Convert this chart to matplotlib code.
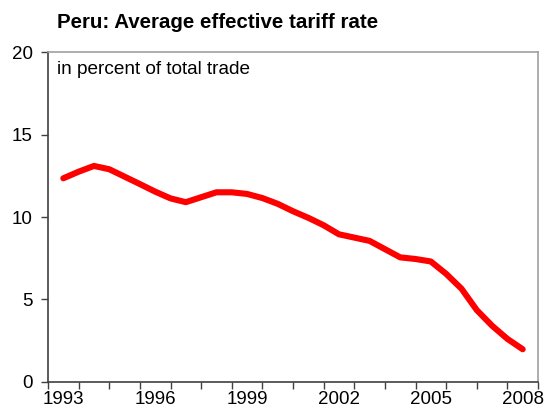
import numpy as np
import matplotlib
matplotlib.use('Agg')
import matplotlib.pyplot as plt

# semiannual readings, percent of total trade
years = np.arange(1993.0, 2008.01, 0.5)
tariff = [12.35, 12.75, 13.1, 12.9, 12.45, 12.0, 11.54, 11.13, 10.9, 11.2,
          11.5, 11.5, 11.4, 11.15, 10.8, 10.35, 9.95, 9.5, 8.95, 8.75,
          8.55, 8.05, 7.55, 7.45, 7.3, 6.55, 5.65, 4.35, 3.4, 2.6, 1.97]
label_years = [1993, 1996, 1999, 2002, 2005, 2008]

plt.rcParams['font.family'] = ['Liberation Sans', 'DejaVu Sans']

fig = plt.figure(figsize=(5.44, 4.17), dpi=100)
ax = fig.add_axes([48/544, 1 - 381.7/417, 490/544, (381.7 - 52.3)/417])

ax.plot(years, tariff, color='#ff0000', lw=4.4, solid_capstyle='round', solid_joinstyle='round')

ax.set_xlim(1992.5, 2008.5)
ax.set_ylim(0, 20)
ax.set_yticks([0, 5, 10, 15, 20])
ax.set_xticks(np.arange(1992.5, 2008.6, 1.0))
ax.set_xticklabels([])
ax.set_xticks(label_years, minor=True)
ax.set_xticklabels([str(y) for y in label_years], minor=True)
ax.tick_params(axis='x', which='major', direction='out', length=5, width=1, color='#404040')
ax.tick_params(axis='x', which='minor', length=0, pad=7, labelsize=13.5)
ax.tick_params(axis='y', direction='out', length=5, width=1, color='#404040', labelsize=13.5, pad=6)

for s in ['left', 'bottom']:
    ax.spines[s].set_color('#404040')
    ax.spines[s].set_linewidth(1.2)
for s in ['top', 'right']:
    ax.spines[s].set_color('#a0a0a0')
    ax.spines[s].set_linewidth(1.2)

ax.text(0.018, 0.975, 'in percent of total trade', transform=ax.transAxes,
        ha='left', va='top', fontsize=13.7)
fig.text(57/544, 1 - 28/417, 'Peru: Average effective tariff rate',
         ha='left', va='baseline', fontsize=14.8, fontweight='bold')

fig.savefig('out.png', dpi=100)
